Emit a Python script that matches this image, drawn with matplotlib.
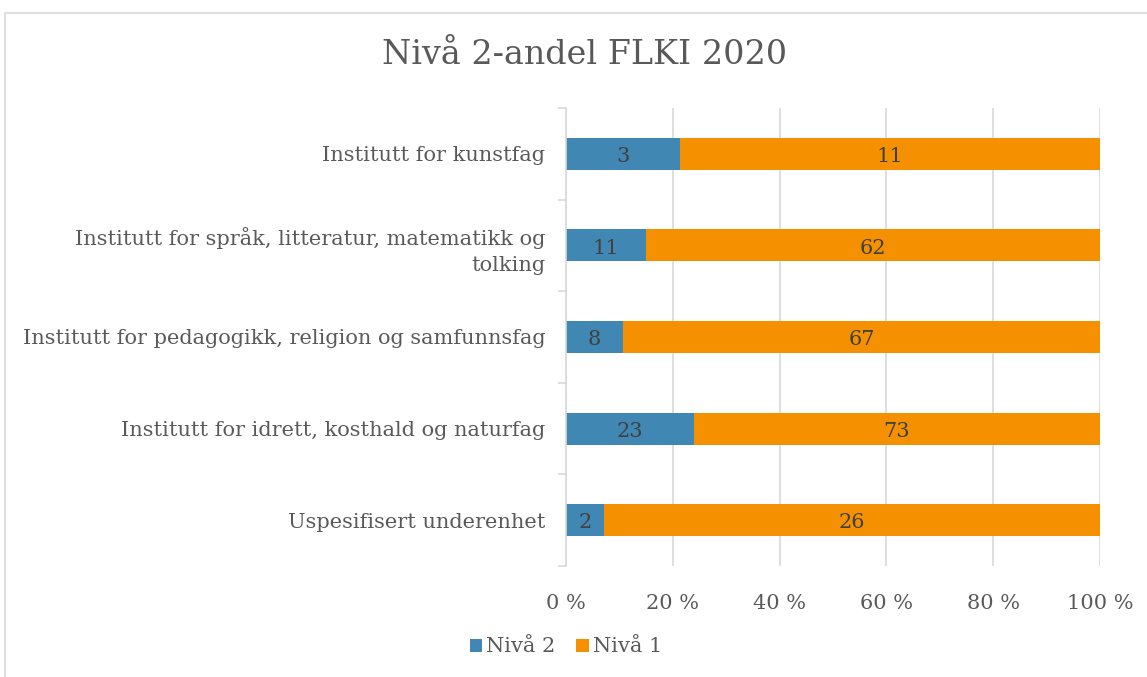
import numpy as np
import matplotlib.pyplot as plt
from matplotlib.patches import Rectangle

categories = [
    "Institutt for kunstfag",
    "Institutt for språk, litteratur, matematikk og\ntolking",
    "Institutt for pedagogikk, religion og samfunnsfag",
    "Institutt for idrett, kosthald og naturfag",
    "Uspesifisert underenhet",
]
niva2 = np.array([3, 11, 8, 23, 2])
niva1 = np.array([11, 62, 67, 73, 26])
xticks = [0, 20, 40, 60, 80, 100]

blue = "#4087b3"
orange = "#f59100"
grey_text = "#595959"

plt.rcParams["font.family"] = ["DejaVu Serif"]

fig = plt.figure(figsize=(11.47, 6.77), dpi=100)
ax = fig.add_axes([566 / 1147, 1 - 566 / 677, 534 / 1147, 458 / 677])

# frame around the chart area (only top and left visible)
fig.patches.append(Rectangle((5 / 1147, -0.1), 1.2, 1 - 13 / 677 + 0.1,
                             transform=fig.transFigure, fill=False,
                             edgecolor="#d9d9d9", linewidth=1.2))

total = niva2 + niva1
p2 = niva2 / total * 100
p1 = niva1 / total * 100
y = np.arange(len(categories))[::-1]
h = 0.35

ax.barh(y, p2, height=h, color=blue, label="Nivå 2")
ax.barh(y, p1, left=p2, height=h, color=orange, label="Nivå 1")

for yi, a, b, n2, n1 in zip(y, p2, p1, niva2, niva1):
    ax.text(a / 2, yi - 0.03, str(n2), ha="center", va="center", fontsize=15, color="#404040")
    ax.text(a + b / 2, yi - 0.03, str(n1), ha="center", va="center", fontsize=15, color="#404040")

ax.set_xlim(0, 100)
ax.set_ylim(-0.5, len(categories) - 0.5)
ax.set_xticks(xticks)
ax.set_xticklabels([f"{t} %" for t in xticks], fontsize=15, color=grey_text)
ax.set_yticks(y)
ax.set_yticklabels(categories, fontsize=15, color=grey_text, linespacing=1.45)
ax.tick_params(axis="y", length=0, pad=15)
ax.tick_params(axis="x", length=0, pad=20)
ax.set_yticks(np.arange(-0.5, len(categories), 1), minor=True)
ax.tick_params(axis="y", which="minor", length=6, color="#d9d9d9", width=1.2)
ax.grid(axis="x", color="#d9d9d9", linewidth=1.2)
ax.set_axisbelow(True)
for s in ["top", "right", "bottom"]:
    ax.spines[s].set_visible(False)
ax.spines["left"].set_color("#d9d9d9")
ax.spines["left"].set_linewidth(1.2)

fig.text(585 / 1147, 1 - 55 / 677, "Nivå 2-andel FLKI 2020", ha="center", va="center",
         fontsize=24, color=grey_text)

fig.legend(loc="center", bbox_to_anchor=(566 / 1147, 1 - 647 / 677), ncol=2, frameon=False,
           fontsize=15, handlelength=0.6, handleheight=0.6, handletextpad=0.2,
           columnspacing=1.0, labelcolor=grey_text)

fig.savefig("out.png", dpi=100)
